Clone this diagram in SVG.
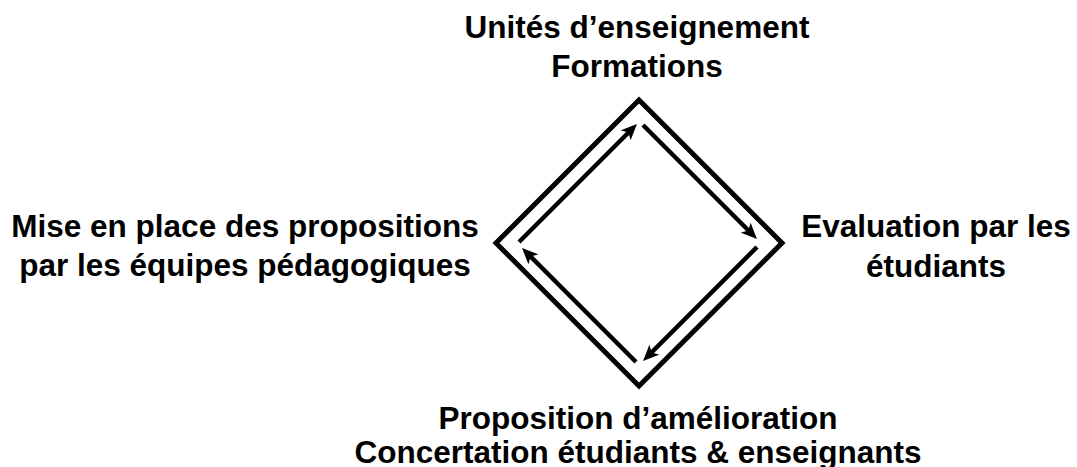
<svg xmlns="http://www.w3.org/2000/svg" width="1077" height="467" viewBox="0 0 1077 467">
  <style>
    .lbl { font-family: "Liberation Sans", Arial, sans-serif; font-weight: bold; font-size: 31.5px; fill: #000; text-anchor: middle; }
    .frame { fill: none; stroke: #000; stroke-width: 5; stroke-linejoin: miter; }
    .arr { fill: none; stroke: #000; stroke-width: 4.5; stroke-linecap: butt; marker-end: url(#head); }
  </style>
  <defs>
    <marker id="head" viewBox="0 0 16 14" refX="9" refY="7" markerWidth="16" markerHeight="14" markerUnits="userSpaceOnUse" orient="auto">
      <path d="M0,0 L16,7 L0,14 L4,7 Z" fill="#000"/>
    </marker>
  </defs>
  <rect width="1077" height="467" fill="#fff"/>

  <g id="cycle-frame">
    <polygon class="frame" points="639,100 782,243 639,386 496,243"/>
  </g>

  <g id="connectors">
    <path class="arr" d="M519,242 L632,129"/>
    <path class="arr" d="M643,125 L752,234"/>
    <path class="arr" d="M757,247 L648,356"/>
    <path class="arr" d="M636,362 L527,253"/>
  </g>

  <g id="node-top">
    <text class="lbl" x="637" y="38">Unités d’enseignement</text>
    <text class="lbl" x="637" y="77">Formations</text>
  </g>

  <g id="node-right">
    <text class="lbl" x="936" y="237">Evaluation par les</text>
    <text class="lbl" x="936" y="277">étudiants</text>
  </g>

  <g id="node-bottom">
    <text class="lbl" x="638" y="429">Proposition d’amélioration</text>
    <text class="lbl" x="638" y="463">Concertation étudiants &amp; enseignants</text>
  </g>

  <g id="node-left">
    <text class="lbl" x="245" y="237">Mise en place des propositions</text>
    <text class="lbl" x="245" y="276">par les équipes pédagogiques</text>
  </g>
</svg>
